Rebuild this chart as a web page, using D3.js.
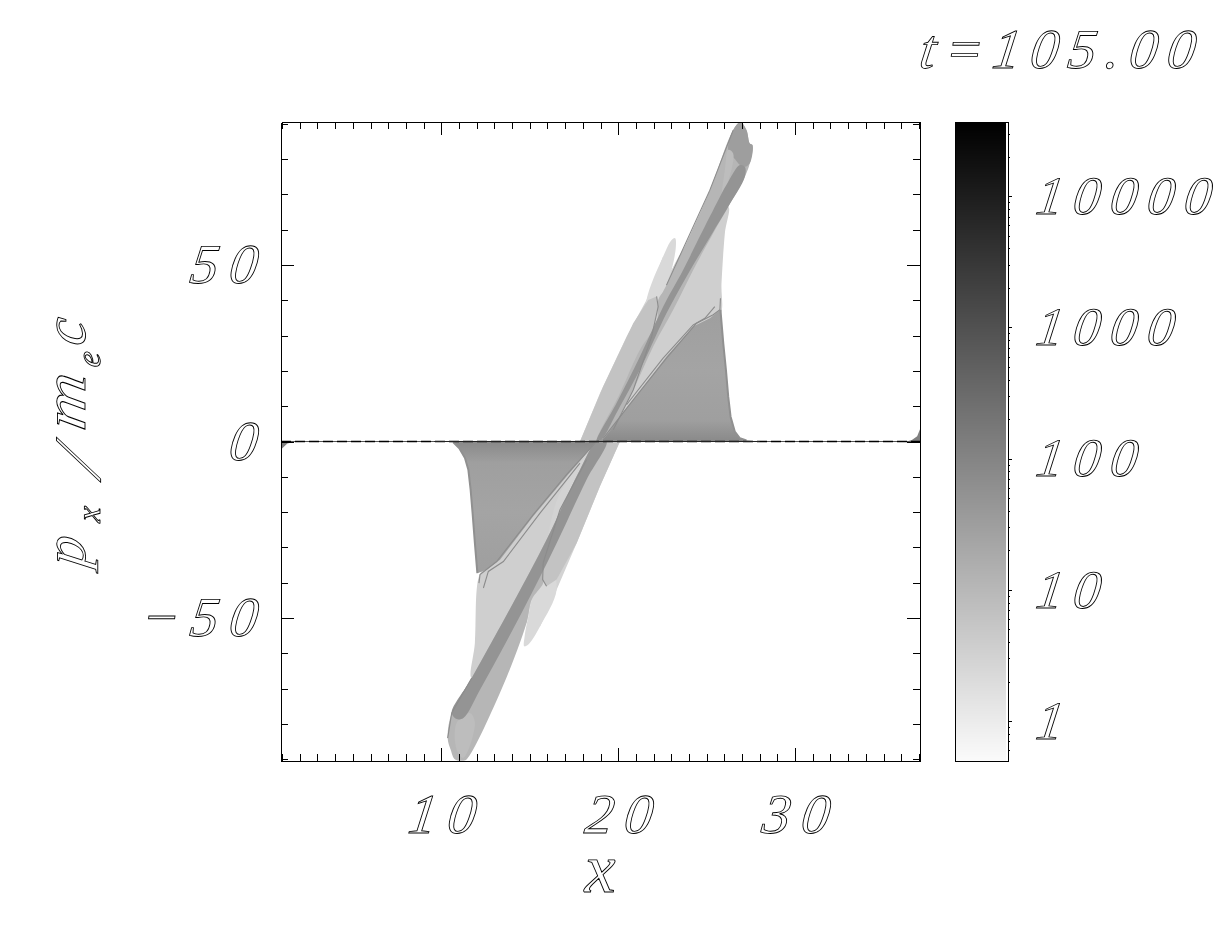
<!DOCTYPE html>
<html>
<head>
<meta charset="utf-8">
<script src="https://cdn.jsdelivr.net/npm/d3@7"></script>
<style>
  html, body { margin: 0; background: #fff; }
  svg { display: block; }
  .script text, text.script {
    font-family: "Liberation Serif", serif;
    font-style: italic;
    font-weight: normal;
    font-size: 56px;
    fill: none;
    stroke: #000;
    stroke-width: 0.9px;
    letter-spacing: 11px;
    text-rendering: geometricPrecision;
    opacity: 0.999;
  }
  .axis path, .axis line { stroke: #000; stroke-width: 1px; shape-rendering: crispEdges; }
</style>
</head>
<body>
<div id="chart"></div>
<script>
// axis ticks
const xMajor = [10, 20, 30];
const xMinor = d3.range(1, 38);
const yMajor = [-50, 0, 50];
const yMinor = [-90, -80, -70, -60, -40, -30, -20, -10, 10, 20, 30, 40, 60, 70, 80, 90];
const cbMajor = [1, 10, 100, 1000, 10000];
const cbMinor = [0.6, 0.7, 0.8, 0.9, 2, 3, 4, 5, 6, 7, 8, 9, 20, 30, 40, 50, 60, 70, 80, 90,
  200, 300, 400, 500, 600, 700, 800, 900, 2000, 3000, 4000, 5000, 6000, 7000, 8000, 9000, 20000, 30000];
const title = 't=105.00';

// phase space outlines [x, px]
const hullUpper = [[17.84,0],[18.97,13.7],[20.47,29.7],[21.60,40.1],[22.54,52.4],[23.02,48.6],[23.67,54.3],[25.0,50],[24,30],[21,10],[20.10,0]];
const spikeUpper = [[21.60,40.1],[22.54,52.4],[23.02,57.1],[23.22,57.6],[23.26,55.2],[23.02,48.6],[22.73,44.3],[22.5,40],[21.5,30]];
const lensUpper = [[17.84,0],[19.15,15.6],[20.85,33.5],[21.70,40.1],[22.17,41.1],[22.26,38.2],[21.89,29.7],[20.85,14.6],[19.72,3.3],[18.97,0]];
const bodyUpper = [[18.78,0],[20.10,11.8],[21.98,27.8],[22.73,44.3],[23.67,54.3],[26.22,66.5],[26.03,59.0],[25.84,44.8],[25.78,36],[24.99,33],[24.24,30.5],[22.73,22.5],[20.85,10],[19.34,1]];
const triangleUpper = [[18.97,0],[20.85,11.8],[22.73,24.1],[24.24,32.6],[25.18,34.9],[25.78,37.3],[25.94,27.8],[26.09,20.3],[26.22,12.7],[26.35,7.1],[26.59,2.8],[26.88,0.9],[27.25,0.3],[28.01,0]];
const stripUpper = [[22.73,44.3],[23.67,54.3],[25.18,71.2],[26.50,88.2],[26.91,90.5],[27.25,88.2],[27.44,84.4],[27.59,84.0],[27.44,78.8],[27.16,75.0],[26.22,66.5],[25.37,59.0],[24.24,48.6],[23.11,37.3],[21.98,26.9],[20.85,14.6],[19.72,4.3],[18.97,0],[18.78,0],[20.10,13.7],[21.23,26.0],[22.17,33.5],[22.26,40.1],[22.54,42.5]];
const capUpper = [[26.50,88.2],[26.91,90.5],[27.25,88.2],[27.44,84.4],[27.59,84.0],[27.44,78.8],[27.16,77.8],[26.88,78.3],[26.60,80],[26.22,82.6]];
const sliverUpper = [[26.22,82.6],[26.50,81.6],[26.22,73.6],[25.84,68.4],[26.03,76.9]];
const bandUpper = [[26.88,78.3],[27.16,77.8],[27.16,75.0],[26.22,66.5],[25.37,59.4],[23.86,46.7],[22.73,36.3],[21.41,22.2],[20.10,9.9],[18.97,0],[18.78,0],[19.91,10.9],[21.23,24.1],[22.54,38.2],[23.67,48.6],[25.18,63.7],[26.22,73.6]];

const hullLower = [[20.10,0],[18.97,-12.7],[17.65,-28.8],[16.52,-42.0],[15.58,-52.4],[15.11,-44.8],[14.82,-51.4],[13.2,-52],[14,-32],[17,-10],[17.84,0]];
const spikeLower = [[16.52,-42.0],[15.58,-52.4],[14.92,-57.5],[14.69,-58.0],[14.71,-55.2],[14.92,-49.5],[15.11,-44.8],[15.58,-40],[16.2,-35]];
const lensLower = [[20.10,0],[18.97,-12.7],[17.65,-28.8],[16.52,-39.1],[15.95,-41.0],[15.73,-39.1],[15.76,-34.4],[16.71,-19.3],[18.21,-5.2],[18.78,0]];
const bodyLower = [[12.13,-38.2],[11.90,-57.1],[11.72,-67.0],[15.01,-45.7],[16.71,-14.6],[18.78,0],[17.08,-8],[15.20,-19],[13.32,-31],[12.56,-35]];
const triangleLower = [[9.93,0],[10.68,-0.2],[11.02,-1.9],[11.34,-4.7],[11.53,-8.0],[11.66,-13.7],[11.77,-20.3],[11.90,-28.8],[12.04,-37.3],[12.56,-36.3],[13.32,-33.5],[15.20,-21.2],[17.08,-9.9],[18.78,0]];
const stripLower = [[18.78,0],[15.95,-27.8],[14.07,-45.7],[11.72,-67.0],[10.59,-76.9],[10.36,-84.0],[10.53,-87.3],[10.78,-90.1],[11.25,-90.4],[11.43,-90.1],[13.32,-71.2],[14.82,-51.4],[15.11,-44.8],[15.76,-40.1],[15.73,-37.3],[16.71,-20.3],[18.97,0]];
const sliverLower = [[10.87,-79.7],[11.62,-76.9],[11.90,-79.7],[11.25,-89.6],[10.87,-87.3]];
const bandLower = [[10.59,-76.9],[10.87,-78.6],[11.25,-78.3],[12.19,-70.3],[14.64,-47.6],[16.52,-28.8],[18.21,-10.8],[19.34,0],[18.78,0],[17.84,-8.0],[15.95,-27.8],[14.07,-45.7],[11.72,-67.0]];

const wingLeft = [[0.94,-3.6],[1.0,-2.0],[1.3,-0.6],[1.7,-0.1],[1.7,0],[0.94,0]];
const wingRight = [[37.06,3.5],[36.9,1.5],[36.6,0.4],[36.3,0],[37.06,0]];

// thin dark ridges
const ridgesUpper = [
  [[25.78,40.6],[25.75,37.3],[25.37,35.9],[24.43,33.5],[22.73,23.6],[20.85,11.8],[19.15,0.9]],
  [[25.46,38.2],[24.90,34.9],[24.24,33.0],[22.54,23.6],[20.47,10.4]],
  [[22.17,41.1],[22.26,38.2],[21.89,29.7],[20.85,14.6],[19.72,3.3]],
  [[22.73,44.3],[25.18,71.2],[26.50,88.2]]
];
const ridgesLower = [
  [[12.13,-40.1],[12.19,-37.7],[13.13,-34.0],[15.20,-20.7],[17.08,-9.4],[18.78,0]],
  [[12.38,-41.5],[12.66,-36.8],[13.51,-34.0],[15.58,-20.3],[17.84,-6.1]],
  [[15.95,-41.0],[15.73,-39.1],[15.76,-34.4],[16.71,-19.3],[18.21,-5.2]],
  [[10.36,-84.0],[10.59,-76.9],[11.72,-67.0]]
];
const edgeUpper = [[25.78,37.3],[25.94,27.8],[26.09,20.3],[26.22,12.7],[26.35,7.1],[26.59,2.8],[26.88,0.9],[27.25,0.3]];
const edgeLower = [[12.04,-37.3],[11.90,-28.8],[11.77,-20.3],[11.66,-13.7],[11.53,-8.0],[11.34,-4.7],[11.02,-1.9],[10.68,-0.2]];
const coldLine = [[0.94,0],[37.06,0]];
const coldCore = [[9.6,0],[28.0,0]];

// density of the two triangles by |px|
const trianglePx = [0, 6, 20, 36];
const triangleDensity = [80, 30, 24, 30];

// density of each outline, in colour bar units
const regions = [
  [hullUpper, 3, 'straight'], [hullLower, 3, 'straight'],
  [spikeUpper, 2.3], [spikeLower, 2.3],
  [lensUpper, 6, 'straight'], [lensLower, 6, 'straight'],
  [bodyUpper, 3.5], [bodyLower, 3.5],
  [triangleUpper, 'url(#triUp)', 'straight'], [triangleLower, 'url(#triDown)', 'straight'],
  [stripUpper, 11], [stripLower, 11],
  [capUpper, 32],
  [sliverUpper, 8], [sliverLower, 8],
  [bandUpper, 50], [bandLower, 50],
  [wingLeft, 120, 'straight'], [wingRight, 120, 'straight']
];

const width = 1217, height = 937;
const plot = { left: 281, right: 920, top: 122, bottom: 761 };
const bar = { left: 955, right: 1008, top: 122, bottom: 761 };
const slant = 'skewX(-8)';

const svg = d3.select('#chart').append('svg').attr('width', width).attr('height', height);

const x = d3.scaleLinear().domain([0.94, 37.06]).range([plot.left, plot.right]);
const y = d3.scaleLinear().domain([-90.5, 90.5]).range([plot.bottom, plot.top]);
const cbY = d3.scaleLog().domain([0.496, 36800]).range([bar.bottom, bar.top]);
const color = d3.scaleLog().domain([0.496, 36800]).range(['#fbfbfb', '#000000']).interpolate(d3.interpolateRgb);

svg.append('clipPath').attr('id', 'frame').append('rect')
  .attr('x', plot.left).attr('y', plot.top)
  .attr('width', plot.right - plot.left).attr('height', plot.bottom - plot.top);

const defs = svg.append('defs');
defs.append('filter').attr('id', 'soft').append('feGaussianBlur').attr('stdDeviation', 0.7);

[['triUp', 1], ['triDown', -1]].forEach(([id, sign]) => {
  const grad = defs.append('linearGradient').attr('id', id)
    .attr('gradientUnits', 'userSpaceOnUse')
    .attr('x1', 0).attr('x2', 0)
    .attr('y1', y(0)).attr('y2', y(sign * d3.max(trianglePx)));
  trianglePx.forEach((p, i) => {
    grad.append('stop')
      .attr('offset', p / d3.max(trianglePx))
      .attr('stop-color', color(triangleDensity[i]));
  });
});

const line = d3.line().x(d => x(d[0])).y(d => y(d[1]));
const outline = d3.line().x(d => x(d[0])).y(d => y(d[1])).curve(d3.curveLinearClosed);
const smooth = d3.line().x(d => x(d[0])).y(d => y(d[1])).curve(d3.curveCatmullRomClosed.alpha(0.5));

const image = svg.append('g').attr('clip-path', 'url(#frame)').append('g').attr('filter', 'url(#soft)');

image.selectAll('path.region')
  .data(regions)
  .enter()
  .append('path')
  .attr('class', 'region')
  .attr('d', d => (d[2] === 'straight' ? outline : smooth)(d[0]))
  .attr('fill', d => typeof d[1] === 'string' ? d[1] : color(d[1]));

image.selectAll('path.ridge')
  .data(ridgesUpper.concat(ridgesLower))
  .enter()
  .append('path')
  .attr('class', 'ridge')
  .attr('d', line)
  .attr('fill', 'none')
  .attr('stroke', color(70))
  .attr('stroke-width', 1.1);

image.selectAll('path.edge')
  .data([edgeUpper, edgeLower])
  .enter()
  .append('path')
  .attr('class', 'edge')
  .attr('d', line)
  .attr('fill', 'none')
  .attr('stroke', color(60))
  .attr('stroke-width', 2);

// Cold electrons along px = 0
svg.append('path').attr('d', line(coldLine))
  .attr('stroke', '#555').attr('stroke-width', 1).attr('fill', 'none').style('shape-rendering', 'crispEdges');
svg.append('path').attr('d', line(coldLine))
  .attr('stroke', '#000').attr('stroke-width', 1.4).attr('stroke-dasharray', '10 4').attr('fill', 'none');
svg.append('path').attr('d', line(coldCore))
  .attr('stroke', '#222').attr('stroke-width', 1.2).attr('fill', 'none');

// Frame axes, long and short ticks on all four sides
function drawAxis(axis, tx, ty, cls) {
  return svg.append('g')
    .attr('class', cls)
    .attr('transform', `translate(${tx},${ty})`)
    .call(axis);
}

drawAxis(d3.axisBottom(x).tickValues(xMinor).tickSizeInner(-7).tickSizeOuter(0).tickFormat(''), 0, plot.bottom, 'axis');
drawAxis(d3.axisTop(x).tickValues(xMinor).tickSizeInner(-7).tickSizeOuter(0).tickFormat(''), 0, plot.top, 'axis');
drawAxis(d3.axisLeft(y).tickValues(yMinor).tickSizeInner(-7).tickSizeOuter(0).tickFormat(''), plot.left, 0, 'axis');
drawAxis(d3.axisRight(y).tickValues(yMinor).tickSizeInner(-7).tickSizeOuter(0).tickFormat(''), plot.right, 0, 'axis');

drawAxis(d3.axisBottom(x).tickValues(xMajor).tickSizeInner(-13).tickSizeOuter(0).tickPadding(32), 0, plot.bottom, 'axis script')
  .selectAll('text').attr('dx', 14).attr('transform', slant);
drawAxis(d3.axisTop(x).tickValues(xMajor).tickSizeInner(-13).tickSizeOuter(0).tickFormat(''), 0, plot.top, 'axis');
drawAxis(d3.axisLeft(y).tickValues(yMajor).tickSizeInner(-13).tickSizeOuter(0).tickPadding(12)
  .tickFormat(d => d < 0 ? '\u2212' + Math.abs(d) : d), plot.left, 0, 'axis script')
  .selectAll('text').attr('transform', slant);
drawAxis(d3.axisRight(y).tickValues(yMajor).tickSizeInner(-13).tickSizeOuter(0).tickFormat(''), plot.right, 0, 'axis');

// Colour bar
const rows = d3.range(bar.top, bar.bottom);
svg.selectAll('rect.cb')
  .data(rows)
  .enter()
  .append('rect')
  .attr('class', 'cb')
  .attr('x', bar.left)
  .attr('y', d => d)
  .attr('width', bar.right - bar.left - 2)
  .attr('height', 1)
  .attr('fill', d => color(cbY.invert(d + 0.5)));

svg.append('rect')
  .attr('x', bar.left + 0.5).attr('y', bar.top + 0.5)
  .attr('width', bar.right - bar.left).attr('height', bar.bottom - bar.top)
  .attr('fill', 'none').attr('stroke', '#000').style('shape-rendering', 'crispEdges');

drawAxis(d3.axisRight(cbY).tickValues(cbMinor).tickSizeInner(2).tickSizeOuter(0).tickFormat(''), bar.right, 0, 'axis');
// per-glyph x list so the last digit carries no trailing spacing
drawAxis(d3.axisRight(cbY).tickValues(cbMajor).tickSizeInner(4).tickSizeOuter(0).tickFormat(d3.format('d')), bar.right, 0, 'axis script')
  .selectAll('text')
  .attr('x', d => d3.range(String(d).length).map(i => 29 + i * 37).join(' '))
  .attr('transform', slant)
  .style('letter-spacing', '0')
  .style('font-size', '54px');

// Titles
svg.append('text').attr('class', 'script')
  .attr('transform', `translate(918,68) ${slant}`)
  .style('letter-spacing', '9.7px')
  .text(title);

svg.append('text').attr('class', 'script')
  .attr('x', 600).attr('y', 892)
  .attr('text-anchor', 'middle')
  .style('letter-spacing', '0')
  .style('font-size', '70px')
  .text('x');

// y label pieces sit on one rotated baseline
const yLabel = svg.append('g').attr('transform', 'translate(85,570) rotate(-90)');
const yPieces = [
  { t: 'p', at: 2, size: 60, drop: 0, skew: -8 },
  { t: 'x', at: 47, size: 34, drop: 15, skew: -8 },
  { t: '/', at: 91, size: 66, drop: 15, skew: -23 },
  { t: 'm', at: 138, size: 60, drop: 0, skew: -8, len: 57 },
  { t: 'e', at: 202, size: 34, drop: 15, skew: -8 },
  { t: 'c', at: 223, size: 60, drop: 0, skew: -8 }
];
yLabel.selectAll('text')
  .data(yPieces)
  .enter()
  .append('text')
  .attr('class', 'script')
  .attr('transform', d => `translate(${d.at},${d.drop}) skewX(${d.skew})`)
  .attr('textLength', d => d.len || null)
  .attr('lengthAdjust', 'spacingAndGlyphs')
  .style('font-size', d => d.size + 'px')
  .style('letter-spacing', '0')
  .text(d => d.t);
</script>
</body>
</html>
